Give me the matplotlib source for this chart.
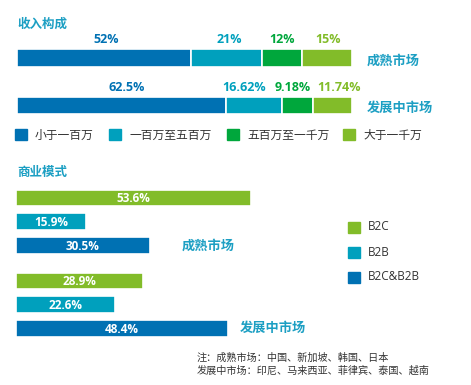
import matplotlib
matplotlib.use("Agg")
import matplotlib.pyplot as plt
from matplotlib.patches import Rectangle

# ---------------- data ----------------
markets = ["成熟市场", "发展中市场"]
revenue_bands = ["小于一百万", "一百万至五百万", "五百万至一千万", "大于一千万"]
revenue_mature = [52, 21, 12, 15]
revenue_developing = [62.5, 16.62, 9.18, 11.74]
revenue_labels_mature = ["52%", "21%", "12%", "15%"]
revenue_labels_developing = ["62.5%", "16.62%", "9.18%", "11.74%"]

models = ["B2C", "B2B", "B2C&B2B"]
model_mature = [53.6, 15.9, 30.5]
model_developing = [28.9, 22.6, 48.4]

note_lines = ["注：成熟市场：中国、新加坡、韩国、日本",
              "发展中市场：印尼、马来西亚、菲律宾、泰国、越南"]

# ---------------- style ----------------
c_blue = "#0071b3"
c_teal = "#00a0bd"
c_green = "#00a73c"
c_lime = "#82bc29"
band_colors = [c_blue, c_teal, c_green, c_lime]
model_colors = [c_lime, c_teal, c_blue]
title_color = "#1c9fc3"
text_color = "#333333"

LAT = ["Open Sans", "Noto Sans CJK SC", "DejaVu Sans"]
CJK = ["Noto Sans CJK SC", "DejaVu Sans"]

W, H = 471, 385


def fx(x):
    return x / W


def fy(y):
    return 1 - y / H


fig = plt.figure(figsize=(W / 100, H / 100), dpi=100)

# ---------------- 收入构成 ----------------
fig.text(fx(17), fy(24), "收入构成", family=CJK, fontsize=9, fontweight="bold",
         color=title_color, va="center", ha="left")

ax1 = fig.add_axes([fx(17), fy(129.25), fx(335), 95 / H])
ax1.set_xlim(0, 100)
ax1.set_ylim(1.5, -0.5)
ax1.axis("off")

# label nudges (in %) so the small labels don't collide
nudges = [[0.5, 0.8, 0, 0.5], [1.5, -3.0, -1.3, 2.0]]
for row, (vals, labs) in enumerate([(revenue_mature, revenue_labels_mature),
                                    (revenue_developing, revenue_labels_developing)]):
    left = 0
    for k, v in enumerate(vals):
        ax1.barh(row, v, left=left, height=0.36, color=band_colors[k],
                 edgecolor="white", linewidth=1.2)
        ax1.text(left + v / 2 + nudges[row][k], row - 0.38, labs[k], family=LAT,
                 fontsize=9, fontweight="bold", color=band_colors[k],
                 ha="center", va="center")
        left += v
    ax1.text(104.5, row + 0.05, markets[row], family=CJK, fontsize=9.5,
             fontweight="bold", color=title_color, ha="left", va="center",
             clip_on=False)

# legend row
leg_x = [15, 109, 227, 343]
for k, name in enumerate(revenue_bands):
    fig.patches.append(Rectangle((fx(leg_x[k]), fy(140.5)), fx(11.5), 11 / H,
                                 transform=fig.transFigure, color=band_colors[k]))
    fig.text(fx(leg_x[k] + 20), fy(135), name, family=CJK, fontsize=8.5,
             color=text_color, va="center", ha="left")

# ---------------- 商业模式 ----------------
fig.text(fx(17), fy(172), "商业模式", family=CJK, fontsize=9, fontweight="bold",
         color=title_color, va="center", ha="left")

px_per_pct = 4.378
ax2_w = 300
ax2 = fig.add_axes([fx(16), fy(342.6), fx(ax2_w), 158.8 / H])
ax2.set_xlim(0, ax2_w / px_per_pct)
ax2.set_ylim(6.1, -0.6)
ax2.axis("off")

groups = [(model_mature, [0, 1, 2]), (model_developing, [3.5, 4.5, 5.5])]
for vals, ys in groups:
    for k, (v, y) in enumerate(zip(vals, ys)):
        ax2.barh(y, v, height=0.7, color=model_colors[k], edgecolor="white",
                 linewidth=1.2)
        ax2.text(v / 2, y + 0.03, f"{v}%", family=LAT, fontsize=8.5,
                 fontweight="bold", color="white", ha="center", va="center")

ax2.text(37.9, 2.0, markets[0], family=CJK, fontsize=9.5, fontweight="bold",
         color=title_color, ha="left", va="center")
ax2.text(51.2, 5.5, markets[1], family=CJK, fontsize=9.5, fontweight="bold",
         color=title_color, ha="left", va="center")

# right legend
leg_y = [227, 252, 277]
for k, name in enumerate(models):
    fig.patches.append(Rectangle((fx(348.3), fy(leg_y[k] + 5.5)), fx(11.7), 11 / H,
                                 transform=fig.transFigure, color=model_colors[k]))
    fig.text(fx(368.3), fy(leg_y[k]), name, family=LAT, fontsize=8.5,
             color=text_color, va="center", ha="left")

# note
fig.text(fx(197), fy(358), note_lines[0], family=CJK, fontsize=7.3,
         color=text_color, va="center", ha="left")
fig.text(fx(197), fy(370.5), note_lines[1], family=CJK, fontsize=7.3,
         color=text_color, va="center", ha="left")

fig.savefig("out.png", dpi=100, facecolor="white")
